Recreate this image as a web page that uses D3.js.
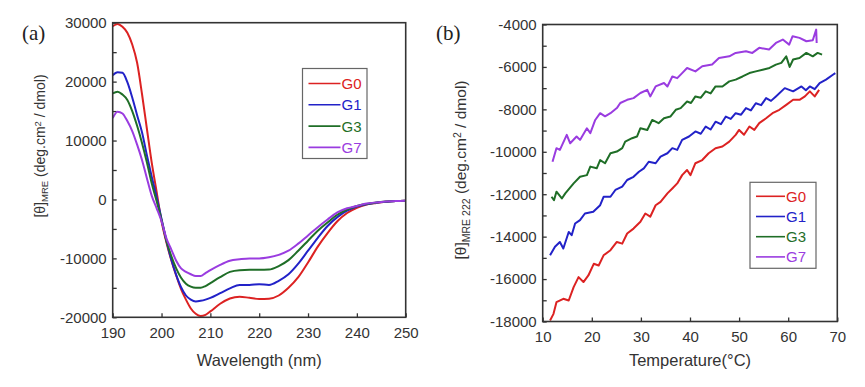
<!DOCTYPE html>
<html>
<head>
<meta charset="utf-8">
<script src="https://cdn.jsdelivr.net/npm/d3@7"></script>
<style>
  body { margin: 0; background: #fff; }
  svg { display: block; }
</style>
</head>
<body>
<div id="chart"></div>
<script>
// series names + colours shared by both panels
var seriesNames = ["G0", "G1", "G3", "G7"];
var seriesColors = ["#dc2222", "#2222c8", "#1f6e27", "#9a3ce0"];

// (a) CD spectra, wavelength in nm
var wavelength = [190, 191, 192, 193, 194, 195, 196, 197, 198, 199, 200, 201, 202, 203, 204, 205, 206, 207, 208, 209, 210,
  212, 214, 216, 218, 220, 222, 224, 226, 228, 230, 232, 234, 236, 238, 240, 242, 244, 246, 248, 250];
var cdG0 = [29400, 29800, 29300, 28300, 26300, 23200, 17900, 12000, 6200, 1300, -3700, -7300, -10300, -12900, -15200, -17000, -18500, -19400, -19800, -19600, -19000,
  -17700, -16800, -16500, -16700, -16900, -16850, -16300, -15000, -13200, -10700, -8000, -5700, -3700, -2300, -1400, -850, -600, -400, -250, -200];
var cdG1 = [21100, 21600, 21500, 19900, 17300, 14300, 11400, 7500, 3800, 400, -3300, -7000, -10200, -12800, -14900, -16300, -17000, -17300, -17200, -17000, -16700,
  -15900, -15100, -14500, -14500, -14400, -14500, -13800, -12700, -10900, -8700, -6500, -4500, -3000, -1900, -1200, -800, -550, -400, -250, -200];
var cdG3 = [18000, 18300, 17800, 16900, 15000, 12500, 9600, 6300, 2700, -300, -3500, -7000, -9600, -11700, -13300, -14300, -14800, -15000, -15000, -14700, -14200,
  -13200, -12300, -12000, -11950, -11950, -11900, -11300, -10300, -8700, -7000, -5300, -3900, -2600, -1700, -1100, -750, -500, -350, -250, -200];
var cdG7 = [13800, 14900, 14600, 13300, 11600, 9300, 6700, 3600, 600, -1500, -3700, -6600, -8500, -10400, -11700, -12300, -12700, -13000, -13000, -12500, -12000,
  -11100, -10400, -10150, -10000, -10000, -9800, -9400, -8700, -7500, -6100, -4700, -3400, -2200, -1500, -1100, -700, -500, -350, -250, -200];

// (b) thermal melt at 222 nm, temperature in C
var tempG0 = [11.5, 12.2, 12.8, 14.2, 15.3, 16.3, 17.3, 18.3, 19.3, 20.4, 21.4, 22.4, 23.8, 25.1, 26.2, 27.2, 28.5, 29.9, 30.9, 31.9,
  33.0, 34.0, 35.4, 36.4, 37.4, 38.4, 39.4, 40.1, 41.1, 42.5, 43.8, 45.2, 46.6, 48.0, 49.3, 50.0, 51.0, 52.1, 53.1, 54.1,
  55.5, 56.8, 58.2, 59.6, 61.0, 62.3, 63.4, 64.4, 65.4, 66.3];
var meltG0 = [-17950, -17640, -17090, -16930, -17010, -16380, -15910, -16140, -15830, -15280, -15360, -14880, -14640, -14250, -14330, -13850, -13620, -13300, -12910, -13060,
  -12520, -12360, -11960, -11730, -11490, -11100, -10860, -11100, -10540, -10390, -10070, -9830, -9750, -9520, -9200, -8970, -9200, -8810, -8970, -8650,
  -8420, -8180, -8020, -7790, -7550, -7550, -7390, -7150, -7390, -7080];
var tempG1 = [11.5, 12.5, 13.5, 14.2, 15.3, 15.9, 16.6, 17.6, 18.6, 20.3, 21.7, 22.4, 23.8, 24.8, 26.2, 27.2, 28.5, 29.6, 30.6, 31.6,
  33.0, 34.0, 35.4, 36.4, 37.4, 38.4, 39.8, 41.1, 42.2, 43.2, 44.2, 45.2, 46.3, 47.3, 48.3, 49.3, 50.4, 51.4, 52.4, 53.4,
  54.5, 55.5, 56.5, 57.5, 59.3, 61.0, 62.7, 63.6, 64.4, 65.4, 66.4, 67.7, 69.1, 69.6];
var meltG1 = [-14880, -14480, -14250, -14560, -13780, -13930, -13380, -13220, -12910, -12830, -12520, -12120, -12120, -11800, -11640, -11330, -11180, -10940, -10780, -10470,
  -10540, -10230, -10070, -9830, -9910, -9440, -9280, -9040, -9150, -8810, -8950, -8580, -8700, -8340, -8450, -8180, -8250, -7940, -8050, -7710,
  -7800, -7470, -7600, -7390, -7000, -7150, -6920, -7100, -6920, -7050, -6760, -6600, -6370, -6290];
var tempG3 = [11.8, 12.3, 12.8, 13.9, 14.6, 16.3, 17.6, 19.0, 19.7, 21.0, 21.7, 22.7, 23.8, 25.1, 26.2, 26.8, 28.2, 29.2, 29.9, 31.3,
  32.3, 33.6, 34.7, 36.0, 37.1, 38.1, 39.4, 40.2, 41.1, 42.2, 43.2, 44.2, 45.2, 46.6, 48.0, 49.3, 50.7, 52.1, 53.4, 54.8,
  56.2, 57.5, 58.6, 59.6, 60.3, 61.0, 62.3, 63.7, 65.0, 66.0, 66.9];
var meltG3 = [-12120, -12280, -11880, -12200, -11960, -11490, -11180, -11100, -10700, -10780, -10390, -10540, -10070, -9990, -9830, -9520, -9360, -9280, -8890, -8970,
  -8500, -8650, -8420, -8340, -8020, -7940, -7630, -7700, -7390, -7450, -7150, -7250, -6920, -6920, -6680, -6600, -6450, -6290, -6210, -6130,
  -6050, -5890, -5810, -5500, -6000, -5650, -5580, -5340, -5500, -5340, -5420];
var tempG7 = [12.0, 12.8, 13.5, 14.9, 15.6, 16.9, 17.6, 19.0, 19.7, 20.7, 21.7, 22.7, 23.8, 25.1, 25.8, 27.2, 28.5, 29.9, 31.3, 31.9,
  33.0, 34.7, 35.4, 36.4, 37.4, 38.4, 39.4, 41.1, 42.5, 44.5, 45.9, 48.0, 49.3, 51.4, 52.7, 54.1, 56.1, 57.5, 58.9, 60.2,
  60.9, 62.3, 63.7, 65.0, 65.7, 65.8];
var meltG7 = [-10470, -9830, -9910, -9200, -9600, -9280, -9440, -8890, -9120, -8500, -8180, -8330, -8180, -7940, -7700, -7550, -7470, -7230, -7080, -7390,
  -6920, -6760, -6920, -6450, -6530, -6290, -6050, -6210, -5970, -5890, -5580, -5500, -5340, -5260, -5340, -5100, -5180, -4870, -4710, -4950,
  -4550, -4630, -4790, -4740, -4240, -4870];

// ticks
var xTicksA = [190, 200, 210, 220, 230, 240, 250];
var yTicksA = d3.range(-20000, 30001, 5000);
var yLabelsA = [-20000, -10000, 0, 10000, 20000, 30000];
var xTicksB = [10, 20, 30, 40, 50, 60, 70];
var yTicksB = d3.range(-18000, -3999, 1000);
var yLabelsB = [-18000, -16000, -14000, -12000, -10000, -8000, -6000, -4000];

var width = 865, height = 387;
var font = "'Liberation Sans', Arial, sans-serif";
var ink = "#333";

var svg = d3.select("#chart").append("svg")
  .attr("width", width)
  .attr("height", height);

function drawPanel(p) {
  var x = d3.scaleLinear().domain(p.xDomain).range([p.left, p.right]);
  var y = d3.scaleLinear().domain(p.yDomain).range([p.bottom, p.top]);
  var g = svg.append("g");

  var xAxis = g.append("g")
    .attr("transform", "translate(0," + p.bottom + ")")
    .call(d3.axisBottom(x).tickValues(p.xTicks).tickSize(-4).tickPadding(10)
      .tickFormat(function(d) { return String(d); }));
  var yAxis = g.append("g")
    .attr("transform", "translate(" + p.left + ",0)")
    .call(d3.axisLeft(y).tickValues(p.yTicks).tickSize(-4).tickPadding(6)
      .tickFormat(function(d) { return p.yLabels.indexOf(d) >= 0 ? String(d) : ""; }));

  [xAxis, yAxis].forEach(function(a) {
    a.attr("font-family", font).attr("font-size", 15);
    a.select(".domain").remove();
    a.selectAll(".tick line").attr("stroke", ink).attr("stroke-width", 1.3);
    a.selectAll(".tick text").attr("fill", ink);
  });

  var clipId = "clip" + p.name;
  svg.append("clipPath").attr("id", clipId).append("rect")
    .attr("x", p.left).attr("y", p.top)
    .attr("width", p.right - p.left).attr("height", p.bottom - p.top);

  var line = d3.line()
    .x(function(d) { return x(d[0]); })
    .y(function(d) { return y(d[1]); })
    .curve(p.curve);

  g.append("g").attr("clip-path", "url(#" + clipId + ")")
    .selectAll("path")
    .data(p.series)
    .enter().append("path")
    .attr("fill", "none")
    .attr("stroke", function(d, i) { return seriesColors[i]; })
    .attr("stroke-width", 2)
    .attr("stroke-linejoin", "round")
    .attr("d", function(d) { return line(d); });

  // frame
  g.append("rect")
    .attr("x", p.left).attr("y", p.top)
    .attr("width", p.right - p.left).attr("height", p.bottom - p.top)
    .attr("fill", "none").attr("stroke", ink).attr("stroke-width", 1.6);

  // legend
  var lg = g.append("g").attr("transform", "translate(" + p.legend.x + "," + p.legend.y + ")");
  lg.append("rect")
    .attr("width", p.legend.w).attr("height", p.legend.h)
    .attr("fill", "#fff").attr("stroke", "#666").attr("stroke-width", 1.2);
  var item = lg.selectAll(".item")
    .data(seriesNames)
    .enter().append("g")
    .attr("transform", function(d, i) { return "translate(0," + (p.legend.first + i * p.legend.step) + ")"; });
  item.append("line")
    .attr("x1", p.legend.lineX).attr("x2", p.legend.lineX + p.legend.lineW)
    .attr("stroke", function(d, i) { return seriesColors[i]; })
    .attr("stroke-width", 1.6);
  item.append("text")
    .attr("x", p.legend.lineX + p.legend.lineW + 1)
    .attr("dy", "0.36em")
    .attr("font-family", font).attr("font-size", 15)
    .attr("fill", function(d, i) { return seriesColors[i]; })
    .text(function(d) { return d; });

  // x title
  g.append("text")
    .attr("x", (p.left + p.right) / 2).attr("y", p.xTitleY)
    .attr("text-anchor", "middle")
    .attr("font-family", font).attr("font-size", 16.5).attr("fill", ink)
    .text(p.xTitle);

  // y title with sub/superscripts
  var yt = g.append("text")
    .attr("transform", "translate(" + p.yTitle.x + "," + p.yTitle.y + ")rotate(-90)")
    .attr("text-anchor", "middle")
    .attr("font-family", font).attr("font-size", p.yTitle.size).attr("fill", ink);
  yt.append("tspan").text("[\u03b8]");
  yt.append("tspan").attr("font-size", p.yTitle.size * 0.68).attr("dy", "0.35em").text(p.yTitle.sub);
  yt.append("tspan").attr("dy", "-0.24em").text(" (deg.cm");
  yt.append("tspan").attr("font-size", p.yTitle.size * 0.68).attr("dy", "-0.45em").text("2");
  yt.append("tspan").attr("dy", "0.3em").text(" / dmol)");

  // panel letter
  svg.append("text")
    .attr("x", p.letter.x).attr("y", p.letter.y)
    .attr("font-family", "'Liberation Serif', 'Times New Roman', serif")
    .attr("font-size", 21).attr("fill", "#222")
    .text(p.letter.text);
}

function pairs(xs, ys) {
  return xs.map(function(v, i) { return [v, ys[i]]; });
}

drawPanel({
  name: "a",
  left: 112.7, right: 405.7, top: 22.7, bottom: 317.3,
  xDomain: [190, 250], yDomain: [-20000, 30000],
  xTicks: xTicksA, yTicks: yTicksA, yLabels: yLabelsA,
  curve: d3.curveMonotoneX,
  series: [pairs(wavelength, cdG0), pairs(wavelength, cdG1), pairs(wavelength, cdG3), pairs(wavelength, cdG7)],
  legend: { x: 302.5, y: 68.5, w: 64.5, h: 90, first: 15, step: 21.3, lineX: 6, lineW: 32 },
  xTitle: "Wavelength (nm)", xTitleY: 366,
  yTitle: { x: 45, y: 146, size: 14, sub: "MRE" },
  letter: { x: 22, y: 40, text: "(a)" }
});

drawPanel({
  name: "b",
  left: 542.7, right: 837.3, top: 24.5, bottom: 321.5,
  xDomain: [10, 70], yDomain: [-18000, -4000],
  xTicks: xTicksB, yTicks: yTicksB, yLabels: yLabelsB,
  curve: d3.curveLinear,
  series: [pairs(tempG0, meltG0), pairs(tempG1, meltG1), pairs(tempG3, meltG3), pairs(tempG7, meltG7)],
  legend: { x: 750, y: 182.3, w: 66, h: 86, first: 14, step: 20.2, lineX: 6, lineW: 29 },
  xTitle: "Temperature(\u00b0C)", xTitleY: 366,
  yTitle: { x: 466, y: 170, size: 15.5, sub: "MRE 222" },
  letter: { x: 436, y: 40, text: "(b)" }
});
</script>
</body>
</html>
